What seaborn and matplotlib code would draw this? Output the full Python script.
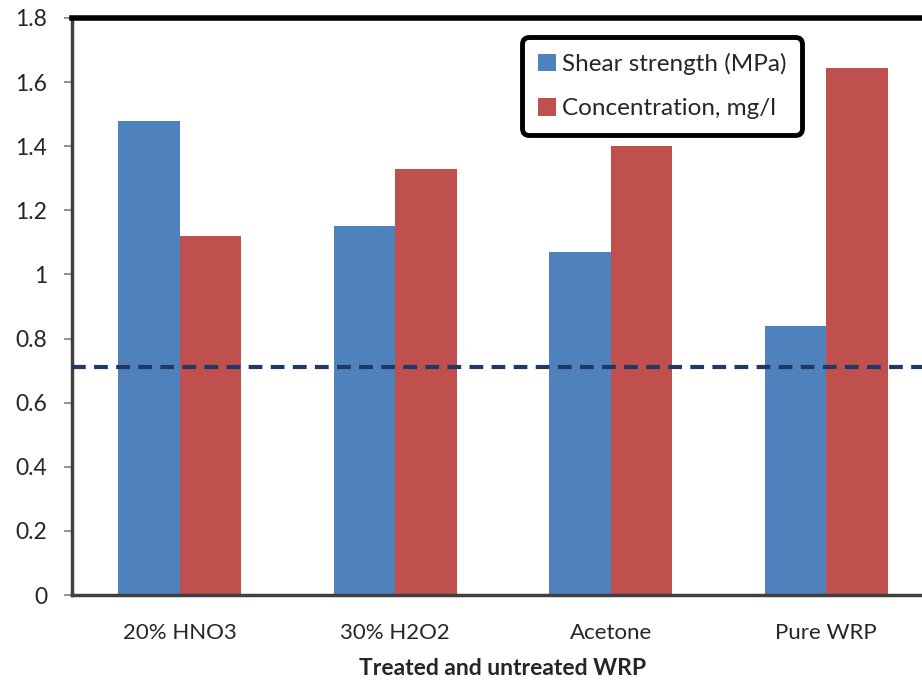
import matplotlib
matplotlib.use("Agg")
import matplotlib.pyplot as plt
import seaborn as sns
import pandas as pd

# Data
categories = ["20% HNO3", "30% H2O2", "Acetone", "Pure WRP"]
shear_strength = [1.48, 1.15, 1.07, 0.84]
concentration = [1.12, 1.33, 1.40, 1.645]
reference_level = 0.71
series_names = ["Shear strength (MPa)", "Concentration, mg/l"]
y_ticks = [0, 0.2, 0.4, 0.6, 0.8, 1, 1.2, 1.4, 1.6, 1.8]
y_tick_labels = ["0", "0.2", "0.4", "0.6", "0.8", "1", "1.2", "1.4", "1.6", "1.8"]

df = pd.DataFrame({
    "category": categories * 2,
    "series": [series_names[0]] * len(categories) + [series_names[1]] * len(categories),
    "value": shear_strength + concentration,
})

sns.set_theme(style="white")
plt.rcParams["font.family"] = ["Lato", "DejaVu Sans"]

fig = plt.figure(figsize=(9.22, 6.8), dpi=100)
ax = fig.add_axes([72 / 922, 85 / 680, 862 / 922, 577 / 680])

sns.barplot(
    data=df, x="category", y="value", hue="series", order=categories,
    hue_order=series_names, palette=["#4F81BD", "#C0504D"],
    width=0.57, gap=0, saturation=1, errorbar=None, ax=ax, legend=True,
    linewidth=0,
)

ax.axhline(reference_level, color="#1F3864", lw=3, linestyle=(0, (3.3, 2.0)), zorder=5)

ax.set_xlim(-0.5, len(categories) - 0.5)
ax.set_ylim(0, 1.8)
ax.set_yticks(y_ticks)
ax.set_yticklabels(y_tick_labels, fontsize=16.5)
ax.set_xticks(range(len(categories)))
ax.set_xticklabels(categories, fontsize=16)
ax.set_xticks([i - 0.5 for i in range(len(categories) + 1)], minor=True)
ax.tick_params(axis="x", which="major", length=0, pad=20)
ax.tick_params(axis="x", which="minor", length=7, width=1.2, color="#808080", direction="out")
ax.tick_params(axis="y", which="major", length=6, width=1.2, color="#808080", direction="out", pad=12, left=True)

ax.set_ylabel("")
ax.set_xlabel("Treated and untreated WRP", fontsize=16.5, fontweight="bold", labelpad=11)

for side in ["left", "bottom"]:
    ax.spines[side].set_color("#404040")
    ax.spines[side].set_linewidth(2.5)
ax.spines["top"].set_color("black")
ax.spines["top"].set_linewidth(4)
ax.spines["right"].set_visible(False)

handles, labels = ax.get_legend_handles_labels()
ax.legend(
    handles, labels, loc="upper left", bbox_to_anchor=(0.522, 0.967),
    fontsize=17.5, frameon=True, fancybox=True, handlelength=0.75, handleheight=0.75,
    handletextpad=0.25, labelspacing=0.95, borderpad=0.65, borderaxespad=0,
    title=None, edgecolor="black", framealpha=1,
)
leg = ax.get_legend()
leg.get_frame().set_linewidth(3.5)
leg.get_frame().set_boxstyle("round", pad=0, rounding_size=0.3)

fig.savefig("out.png", dpi=100)
